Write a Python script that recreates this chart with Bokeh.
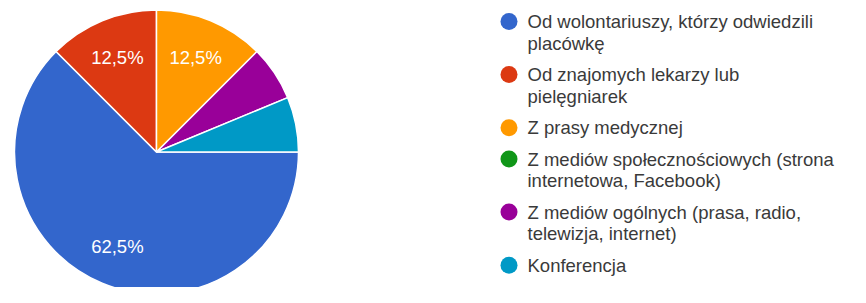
import math
from bokeh.plotting import figure
from bokeh.models import Range1d, ColumnDataSource
from bokeh.core.properties import value
from bokeh.embed import file_html
from bokeh.resources import INLINE

# ---- data ----
categories = [
    "Od wolontariuszy, którzy odwiedzili\nplacówkę",
    "Od znajomych lekarzy lub\npielęgniarek",
    "Z prasy medycznej",
    "Z mediów społecznościowych (strona\ninternetowa, Facebook)",
    "Z mediów ogólnych (prasa, radio,\ntelewizja, internet)",
    "Konferencja",
]
counts = [10, 2, 2, 0, 1, 1]
colors = ["#3366cc", "#dc3912", "#ff9900", "#109618", "#990099", "#0099c6"]

W, H = 850, 287
p = figure(width=W, height=H, output_backend="svg", toolbar_location=None,
           x_range=Range1d(0, W), y_range=Range1d(0, H), min_border=0)
p.axis.visible = False
p.grid.visible = False
p.outline_line_color = None
p.background_fill_color = "white"
p.border_fill_color = "white"

total = sum(counts)
# figure coordinates: x from left, y from bottom (H - y_from_top)
cx, cy, R = 156, H - 151.5, 142
FONT = value("Liberation Sans")

# wedges: start at 3 o'clock, clockwise in data order
starts, ends, cols, lx, ly, ltxt = [], [], [], [], [], []
cum = 0.0
for c, col in zip(counts, colors):
    frac = c / total
    a0 = cum * 2 * math.pi
    a1 = (cum + frac) * 2 * math.pi
    cum += frac
    if c == 0:
        continue
    starts.append(-a0)
    ends.append(-a1)
    cols.append(col)
    if frac >= 0.1:
        mid = -(a0 + a1) / 2
        rl = 0.72 * R
        lx.append(cx + rl * math.cos(mid))
        ly.append(cy + rl * math.sin(mid))
        ltxt.append(("%.1f%%" % (frac * 100)).replace(".", ","))

src = ColumnDataSource(dict(x=[cx] * len(starts), y=[cy] * len(starts),
                            s=starts, e=ends, c=cols))
p.wedge(x="x", y="y", radius=R, start_angle="s", end_angle="e", direction="clock",
        fill_color="c", line_color="white", line_width=1.5, source=src)

p.text(x=lx, y=ly, text=ltxt, text_color="white", text_font=FONT,
       text_font_size="18.5px", text_align="center", text_baseline="middle")

# legend
L, G = 21.8, 9.5
y_top = 21
cxs, cys, tx, ty, tt = [], [], [], [], []
for lab in categories:
    lines = lab.split("\n")
    cxs.append(508.5)
    cys.append(H - y_top)
    for i, ln in enumerate(lines):
        tx.append(527)
        ty.append(H - (y_top + i * L))
        tt.append(ln)
    y_top += len(lines) * L + G

p.scatter(x=cxs, y=cys, size=17, fill_color=colors, line_color=None)
p.text(x=tx, y=ty, text=tt, text_color="#3a3a3a", text_font=FONT,
       text_font_size="18.5px", text_align="left", text_baseline="middle")

open("out.html", "w").write(file_html(p, INLINE))
